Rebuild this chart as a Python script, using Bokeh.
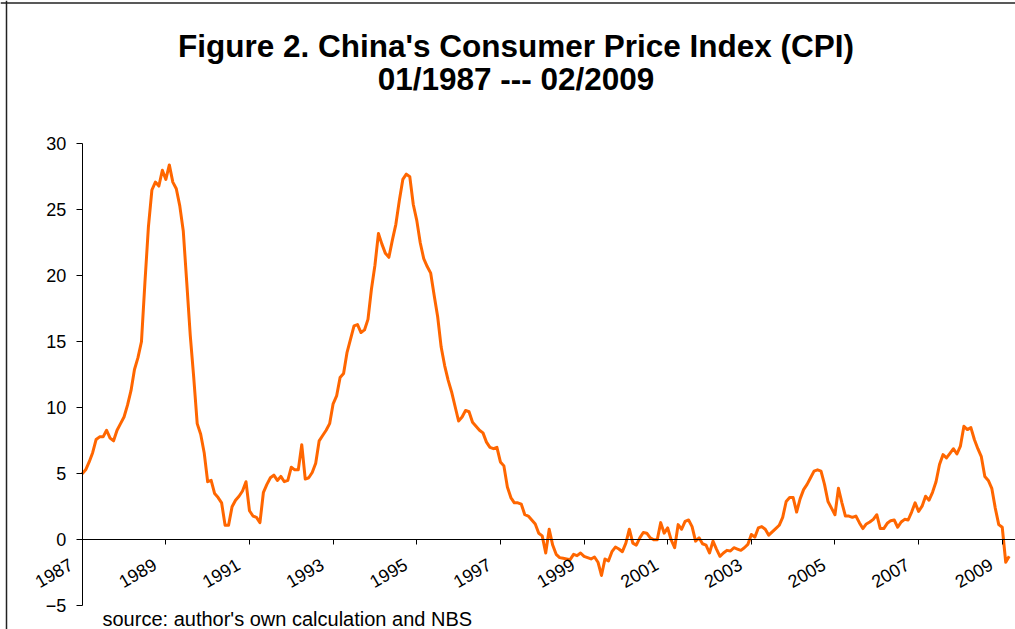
import math
from bokeh.plotting import figure
from bokeh.models import (Range1d, FixedTicker, LinearAxis, Label, LabelSet,
                          ColumnDataSource, CustomJSTickFormatter, Span)
from bokeh.core.properties import value
from bokeh.embed import file_html
from bokeh.resources import INLINE

# ---------------- data ----------------
start_year = 1987          # first observation: January 1987
cpi = [
    # 1987
    5.0, 5.3, 5.9, 6.6, 7.6, 7.8, 7.8, 8.3, 7.7, 7.5, 8.3, 8.8,
    # 1988
    9.3, 10.2, 11.3, 12.9, 13.8, 15.0, 19.5, 23.7, 26.5, 27.1, 26.8, 28.0,
    # 1989
    27.3, 28.4, 27.1, 26.6, 25.3, 23.4, 19.5, 15.5, 12.3, 8.8, 8.0, 6.6,
    # 1990
    4.4, 4.5, 3.5, 3.2, 2.8, 1.1, 1.1, 2.5, 3.0, 3.3, 3.7, 4.4,
    # 1991
    2.2, 1.8, 1.7, 1.3, 3.6, 4.2, 4.7, 4.9, 4.5, 4.8, 4.4, 4.5,
    # 1992
    5.5, 5.3, 5.3, 7.2, 4.6, 4.7, 5.1, 5.8, 7.5, 7.9, 8.3, 8.8,
    # 1993
    10.3, 10.9, 12.3, 12.6, 14.2, 15.2, 16.2, 16.3, 15.7, 15.9, 16.7, 19.0,
    # 1994
    20.8, 23.2, 22.4, 21.7, 21.4, 22.7, 23.9, 25.7, 27.3, 27.7, 27.5, 25.4,
    # 1995
    24.2, 22.5, 21.3, 20.7, 20.2, 18.5, 16.9, 14.6, 13.2, 12.1, 11.2, 10.1,
    # 1996
    9.0, 9.3, 9.8, 9.7, 8.9, 8.6, 8.3, 8.1, 7.4, 7.0, 6.9, 7.0,
    # 1997
    5.9, 5.6, 4.0, 3.2, 2.8, 2.8, 2.7, 1.9, 1.8, 1.5, 1.2, 0.5,
    # 1998
    0.3, -1.0, 0.8, -0.4, -1.1, -1.35, -1.4, -1.45, -1.5, -1.1, -1.2, -1.0,
    # 1999
    -1.25, -1.35, -1.45, -1.3, -1.7, -2.7, -1.45, -1.6, -0.9, -0.55, -0.7, -0.9,
    # 2000
    -0.25, 0.8, -0.25, -0.4, 0.15, 0.55, 0.5, 0.15, 0.0, 0.0, 1.3, 0.5,
    # 2001
    0.9, 0.0, -0.6, 1.15, 0.8, 1.4, 1.5, 1.0, -0.1, 0.15, -0.3, -0.4,
    # 2002
    -1.0, -0.1, -0.7, -1.25, -1.0, -0.8, -0.85, -0.6, -0.7, -0.8, -0.6, -0.35,
    # 2003
    0.4, 0.2, 0.9, 1.0, 0.8, 0.35, 0.6, 0.85, 1.1, 1.7, 2.9, 3.2,
    # 2004
    3.2, 2.1, 3.1, 3.8, 4.2, 4.7, 5.2, 5.3, 5.2, 4.2, 2.9, 2.4,
    # 2005
    1.9, 3.9, 2.8, 1.8, 1.8, 1.7, 1.8, 1.3, 0.85, 1.2, 1.35, 1.55,
    # 2006
    1.9, 0.85, 0.85, 1.25, 1.45, 1.5, 0.95, 1.35, 1.55, 1.5, 2.1, 2.8,
    # 2007
    2.15, 2.55, 3.3, 3.0, 3.6, 4.4, 5.7, 6.45, 6.2, 6.55, 6.9, 6.5,
    # 2008
    7.1, 8.6, 8.35, 8.5, 7.6, 6.9, 6.3, 4.8, 4.5, 3.9, 2.4, 1.15,
    # 2009
    0.95, -1.7, -1.25,
]

tick_years = [1987, 1989, 1991, 1993, 1995, 1997, 1999, 2001, 2003, 2005, 2007, 2009]
tick_labels = ["1987", "1989", "1991", "1993", "1995", "1997", "1999",
               "2001", "2003", "2005", "2007", "2009"]
y_ticks = [-5, 0, 5, 10, 15, 20, 25, 30]

title_line1 = "Figure 2. China's Consumer Price Index (CPI)"
title_line2 = "01/1987 --- 02/2009"
source_note = "source: author's own calculation and NBS"

# x positions: decimal years, one per month
x = [start_year + i / 12 for i in range(len(cpi))]

# ---------------- layout (pixels) ----------------
W, H = 1015, 629
AXIS_PX = 81.7          # canvas x of the y axis (Jan 1987)
PX_PER_YEAR = 41.82
ZERO_PX = 539.3         # canvas y of value 0
PX_PER_UNIT = 13.2
FONT = "Liberation Sans"

x0 = start_year - AXIS_PX / PX_PER_YEAR
x1 = start_year + (W - AXIS_PX) / PX_PER_YEAR
y0 = -(H - ZERO_PX) / PX_PER_UNIT
y1 = ZERO_PX / PX_PER_UNIT

p = figure(width=W, height=H, output_backend="svg", toolbar_location=None,
           title=None, x_range=Range1d(x0, x1), y_range=Range1d(y0, y1),
           x_axis_type=None, y_axis_type=None,
           min_border_left=0, min_border_right=0, min_border_top=0, min_border_bottom=0)
p.outline_line_color = None
p.xgrid.visible = False
p.ygrid.visible = False
p.background_fill_color = "white"
p.border_fill_color = "white"

# chart-area border (left and top edges visible in the reference)
p.add_layout(Span(location=x0 + 6 / PX_PER_YEAR, dimension="height",
                  line_color="#222222", line_width=1.5))
p.add_layout(Span(location=y1 - 2.5 / PX_PER_UNIT, dimension="width",
                  line_color="#222222", line_width=1.5))

# y axis at Jan 1987
ya = LinearAxis(ticker=FixedTicker(ticks=y_ticks), fixed_location=start_year,
                bounds=(min(y_ticks), max(y_ticks)),
                major_tick_out=6, major_tick_in=0, minor_tick_out=0, minor_tick_in=0,
                axis_line_color="black", major_tick_line_color="black",
                major_label_standoff=10, major_label_text_font=FONT,
                major_label_text_font_size="18px", major_label_text_color="black")
p.add_layout(ya, "left")

# x axis (line + ticks) crossing at y = 0
xa = LinearAxis(ticker=FixedTicker(ticks=tick_years), fixed_location=0,
                bounds=(start_year, x1),
                major_tick_out=5, major_tick_in=0, minor_tick_out=0, minor_tick_in=0,
                axis_line_color="black", major_tick_line_color="black",
                formatter=CustomJSTickFormatter(code="return '';"))
p.add_layout(xa, "below")

# rotated year labels
lab_src = ColumnDataSource(dict(x=tick_years, y=[0] * len(tick_years), text=tick_labels))
p.add_layout(LabelSet(x="x", y="y", text="text", source=lab_src,
                      angle=math.pi / 6, x_offset=-11, y_offset=-23,
                      text_align="right", text_baseline="middle",
                      text_font=value(FONT), text_font_size="18px", text_color="black"))

# data line
p.line(x, cpi, line_color="#FF6600", line_width=3, line_join="round")

# titles and note (screen units: frame == whole canvas)
p.add_layout(Label(x=515.5, y=H - 45, x_units="screen", y_units="screen", text=title_line1,
                   text_align="center", text_baseline="alphabetic",
                   text_font=FONT, text_font_style="bold", text_font_size="31.5px",
                   text_color="black"))
p.add_layout(Label(x=515.5, y=H - 78, x_units="screen", y_units="screen", text=title_line2,
                   text_align="center", text_baseline="alphabetic",
                   text_font=FONT, text_font_style="bold", text_font_size="31.5px",
                   text_color="black"))
p.add_layout(Label(x=102, y=H - 618, x_units="screen", y_units="screen", text=source_note,
                   text_align="left", text_baseline="alphabetic",
                   text_font=FONT, text_font_size="20px", text_color="black"))

open("out.html", "w").write(file_html(p, INLINE))
